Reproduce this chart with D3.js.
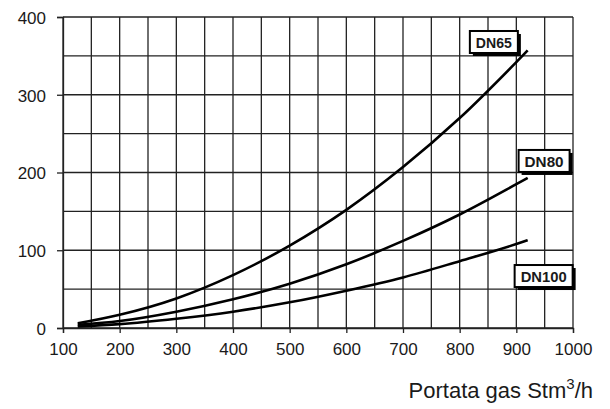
<!DOCTYPE html>
<html>
<head>
<meta charset="utf-8">
<script src="https://cdn.jsdelivr.net/npm/d3@7"></script>
<style>
  body { margin: 0; background: #fff; }
  svg text { font-family: "Liberation Sans", Arial, sans-serif; fill: #1a1a1a; }
</style>
</head>
<body>
<svg id="chart" width="610" height="409"></svg>
<script>
var w = 610,
	h = 409;

// portata (Stm3/h)
var portata = [126, 200, 300, 400, 500, 600, 700, 800, 900, 920];
var dn65 = [6, 17, 38, 68, 106, 152, 207, 270, 342, 357];
var dn80 = [4, 9, 21, 37, 57, 82, 112, 146, 185, 193];
var dn100 = [2, 5, 12, 21, 33, 48, 65, 86, 108, 113];

var seriesNames = ["DN65", "DN80", "DN100"];
var seriesValues = [dn65, dn80, dn100];

var xTicks = [100, 200, 300, 400, 500, 600, 700, 800, 900, 1000];
var yTicks = [0, 100, 200, 300, 400];

var margin = {top: 17, right: 37, bottom: 81, left: 63};

var x = d3.scaleLinear().domain([100, 1000]).range([margin.left, w - margin.right]);
var y = d3.scaleLinear().domain([0, 400]).range([h - margin.bottom, margin.top]);

var svg = d3.select("#chart");

// grid, every 50
var grid = svg.append("g").attr("stroke", "#222").attr("stroke-width", 1.3);
grid.selectAll(".gx")
	.data(d3.range(100, 1001, 50))
	.enter().append("line")
	.attr("x1", d => x(d)).attr("x2", d => x(d))
	.attr("y1", y(0)).attr("y2", y(400));
grid.selectAll(".gy")
	.data(d3.range(0, 401, 50))
	.enter().append("line")
	.attr("x1", x(100)).attr("x2", x(1000))
	.attr("y1", d => y(d)).attr("y2", d => y(d));

// axes
var xAxis = svg.append("g")
	.attr("transform", "translate(0," + y(0) + ")")
	.call(d3.axisBottom(x).tickValues(xTicks).tickSize(5).tickPadding(10).tickFormat(d3.format("d")));
var yAxis = svg.append("g")
	.attr("transform", "translate(" + x(100) + ",0)")
	.call(d3.axisLeft(y).tickValues(yTicks).tickSize(6).tickPadding(6).tickFormat(d3.format("d")));

[xAxis, yAxis].forEach(a => {
	a.select(".domain").attr("stroke", "#222").attr("stroke-width", 1.3);
	a.selectAll(".tick line").attr("stroke", "#222").attr("stroke-width", 1.3);
	a.selectAll(".tick text").attr("font-size", "17px").attr("fill", "#1a1a1a")
		.style("font-family", "'Liberation Sans', Arial, sans-serif");
});
yAxis.selectAll(".tick text").attr("x", -17).attr("dy", "0.38em");

// curves
var line = d3.line()
	.x((d, i) => x(portata[i]))
	.y(d => y(d))
	.curve(d3.curveMonotoneX);

svg.selectAll(".curve")
	.data(seriesValues)
	.enter().append("path")
	.attr("class", "curve")
	.attr("d", line)
	.attr("fill", "none")
	.attr("stroke", "#000")
	.attr("stroke-width", 2.6);

// labels (data coords of box top-left)
var labelPos = [[818, 382], [904, 229], [897, 81]];
var labelW = [48, 51, 58];

var labels = svg.selectAll(".lab")
	.data(seriesNames)
	.enter().append("g")
	.attr("transform", (d, i) => "translate(" + x(labelPos[i][0]) + "," + y(labelPos[i][1]) + ")");
labels.append("rect")
	.attr("x", 3).attr("y", 3)
	.attr("width", (d, i) => labelW[i]).attr("height", 22)
	.attr("fill", "#000");
labels.append("rect")
	.attr("x", 0).attr("y", 0)
	.attr("width", (d, i) => labelW[i]).attr("height", 22)
	.attr("fill", "#fff").attr("stroke", "#000").attr("stroke-width", 2);
labels.append("text")
	.attr("x", (d, i) => labelW[i] / 2).attr("y", 17)
	.attr("text-anchor", "middle")
	.attr("font-size", "15px")
	.attr("font-weight", "bold")
	.attr("textLength", (d, i) => labelW[i] - 12)
	.attr("lengthAdjust", "spacingAndGlyphs")
	.text(d => d);

// axis title
var title = svg.append("text")
	.attr("x", 593).attr("y", 398)
	.attr("text-anchor", "end")
	.attr("font-size", "22px");
title.append("tspan").text("Portata gas Stm");
title.append("tspan").attr("dy", -9).attr("font-size", "15px").text("3");
title.append("tspan").attr("dy", 9).text("/h");
</script>
</body>
</html>
